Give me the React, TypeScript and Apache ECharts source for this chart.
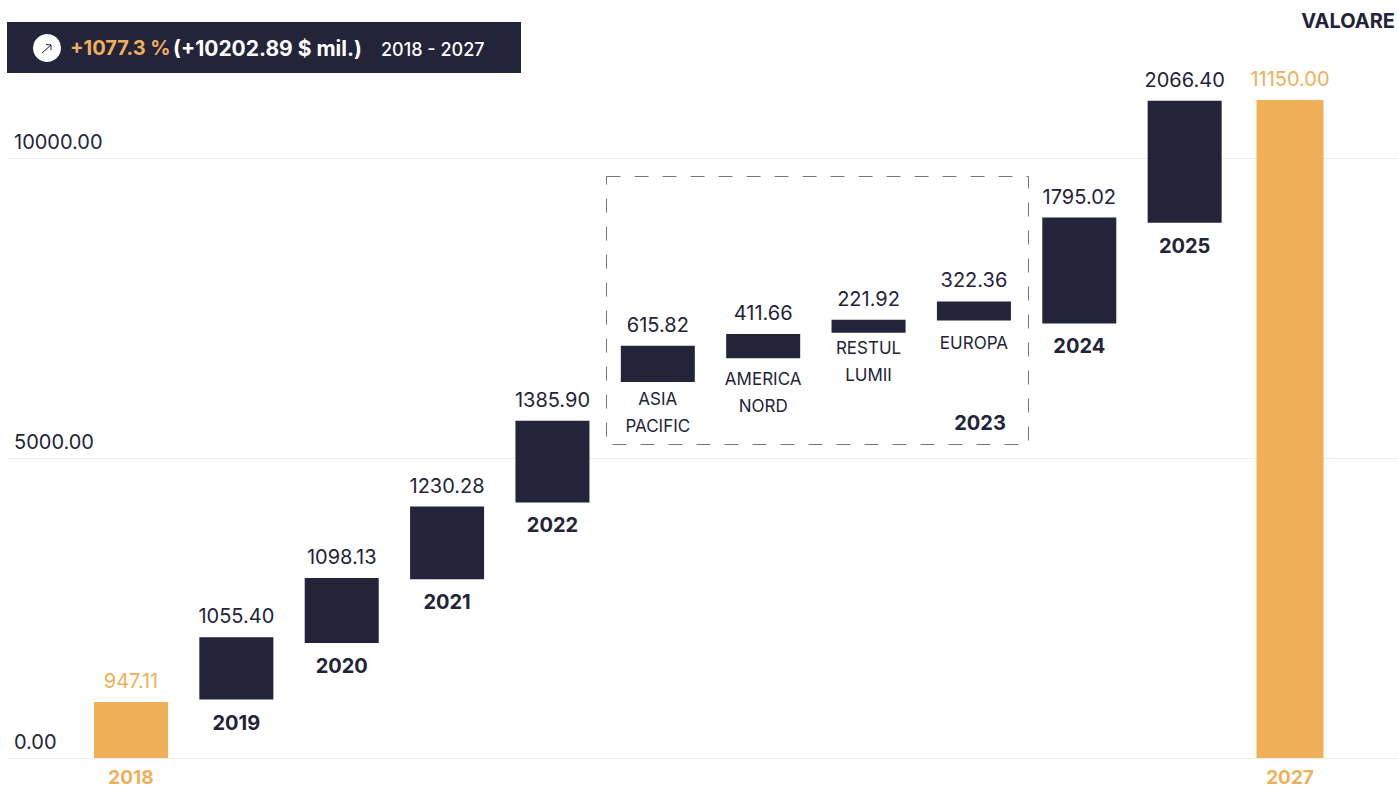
import React, { useEffect, useRef } from "react";
import * as echarts from "echarts";

const DARK = "#23233A";
const ORANGE = "#F0B05A";
const FONT = "Inter, 'Noto Sans', sans-serif";

const categories = ["2018", "2019", "2020", "2021", "2022", "ASIA\nPACIFIC", "AMERICA\nNORD", "RESTUL\nLUMII", "EUROPA", "2024", "2025", "2027"];
const endpointCategories = ["2018", "2027"];
const regionCategories = ["ASIA\nPACIFIC", "AMERICA\nNORD", "RESTUL\nLUMII", "EUROPA"];
// Floating bar start
const offsets = [0, 990, 1950, 3030, 4330, 6370, 6775, 7204, 7414, 7363, 9070, 0];
const values = [947.11, 1055.4, 1098.13, 1230.28, 1385.9, 615.82, 411.66, 221.92, 322.36, 1795.02, 2066.4, 11150];
const yTicks = [0, 5000, 10000];

const regionGap = (c: string) => (c === "EUROPA" ? 9 : c === "AMERICA\nNORD" ? 7 : c === "ASIA\nPACIFIC" ? 3 : 2);

export default function App() {
  const ref = useRef<HTMLDivElement>(null);
  useEffect(() => {
    if (!ref.current) return;
    const chart = echarts.init(ref.current, undefined, { renderer: "svg" });
    const isFinal = (c: string) => c === "2027";
    chart.setOption({
      animation: false,
      backgroundColor: "#fff",
      textStyle: { fontFamily: FONT },
      grid: [
        { left: 78.3, width: 1264.4, top: 100, height: 658 },
        { left: 7, right: 0, top: 158, height: 600 },
      ],
      xAxis: [
        {
          type: "category", gridIndex: 0, data: categories,
          axisLine: { show: false }, axisTick: { show: false }, splitLine: { show: false },
          axisLabel: {
            interval: 0, margin: 10, color: ORANGE, fontSize: 19, lineHeight: 19, fontWeight: 700, fontFamily: FONT,
            formatter: (v: string) => (endpointCategories.includes(v) ? v : ""),
          },
        },
        { type: "category", gridIndex: 0, data: categories, show: false },
        { type: "value", gridIndex: 1, min: 0, max: 1, show: false },
      ],
      yAxis: [
        { type: "value", gridIndex: 0, min: 0, max: 11150, show: false },
        {
          type: "value", gridIndex: 1, min: yTicks[0], max: yTicks[2], interval: yTicks[1],
          axisLine: { show: false }, axisTick: { show: false },
          splitLine: { show: true, lineStyle: { color: "#ECECEE", width: 1 } },
          axisLabel: {
            inside: true, margin: 7, align: "left", verticalAlign: "bottom", padding: [0, 0, 6, 0],
            color: DARK, fontSize: 20, fontFamily: FONT, formatter: (v: number) => v.toFixed(2),
          },
        },
      ],
      series: [
        {
          type: "bar", name: "start", xAxisIndex: 0, yAxisIndex: 0, stack: "w", barWidth: 74, silent: true,
          itemStyle: { color: "transparent" },
          data: categories.map((c, i) => {
            const region = regionCategories.includes(c);
            const hide = endpointCategories.includes(c);
            return {
              value: isFinal(c) ? null : offsets[i],
              label: {
                show: !hide, position: "insideTop", formatter: c,
                distance: region ? regionGap(c) : 13, color: DARK, fontFamily: FONT,
                fontSize: region ? 17 : 20, fontWeight: region ? 400 : 700, lineHeight: region ? 27 : 20,
              },
            };
          }),
        },
        {
          type: "bar", name: "value", xAxisIndex: 0, yAxisIndex: 0, stack: "w", barWidth: 74,
          data: categories.map((c, i) => ({
            value: isFinal(c) ? null : values[i],
            itemStyle: { color: c === "2018" ? ORANGE : DARK },
            label: {
              show: !isFinal(c), position: "top", distance: 11, fontSize: 20, fontFamily: FONT,
              color: c === "2018" ? ORANGE : DARK, formatter: (p: any) => Number(p.value).toFixed(2),
            },
          })),
        },
        {
          type: "bar", name: "final", xAxisIndex: 1, yAxisIndex: 0, barWidth: 67,
          itemStyle: { color: ORANGE },
          label: {
            show: true, position: "top", distance: 11, fontSize: 20, fontFamily: FONT, color: ORANGE,
            formatter: (p: any) => Number(p.value).toFixed(2),
          },
          data: categories.map((c, i) => (isFinal(c) ? values[i] : null)),
        },
      ],
      graphic: [
        { type: "rect", shape: { x: 7, y: 22, width: 514, height: 51 }, style: { fill: DARK } },
        { type: "circle", shape: { cx: 47, cy: 48, r: 14 }, style: { fill: "#fff" } },
        { type: "line", shape: { x1: 42, y1: 53, x2: 51, y2: 45 }, style: { stroke: DARK, lineWidth: 1 } },
        { type: "polyline", shape: { points: [[46, 44.5], [51, 45], [51, 50]] }, style: { stroke: DARK, lineWidth: 1, fill: "none" } },
        { type: "text", x: 70, y: 48, style: { text: "+1077.3 %", fill: ORANGE, font: `700 20px ${FONT}`, textVerticalAlign: "middle" } },
        { type: "text", x: 173, y: 48, style: { text: "(+10202.89 $ mil.)", fill: "#fff", font: `700 21px ${FONT}`, textVerticalAlign: "middle" } },
        { type: "text", x: 381, y: 49, style: { text: "2018 - 2027", fill: "#fff", font: `500 18px ${FONT}`, textVerticalAlign: "middle" } },
        { type: "text", x: 1395, y: 21, style: { text: "VALOARE", fill: DARK, font: `700 20px ${FONT}`, textAlign: "right", textVerticalAlign: "middle" } },
        {
          type: "rect", shape: { x: 606.5, y: 176.5, width: 422, height: 268 },
          style: { fill: "none", stroke: "#77777F", lineWidth: 1, lineDash: [14, 14] },
        },
        { type: "text", x: 980, y: 423, style: { text: "2023", fill: DARK, font: `700 20px ${FONT}`, textAlign: "center", textVerticalAlign: "middle" } },
      ],
    });
    return () => chart.dispose();
  }, []);
  return <div ref={ref} style={{ position: "fixed", left: 0, top: 0, width: 1398, height: 788 }} />;
}
